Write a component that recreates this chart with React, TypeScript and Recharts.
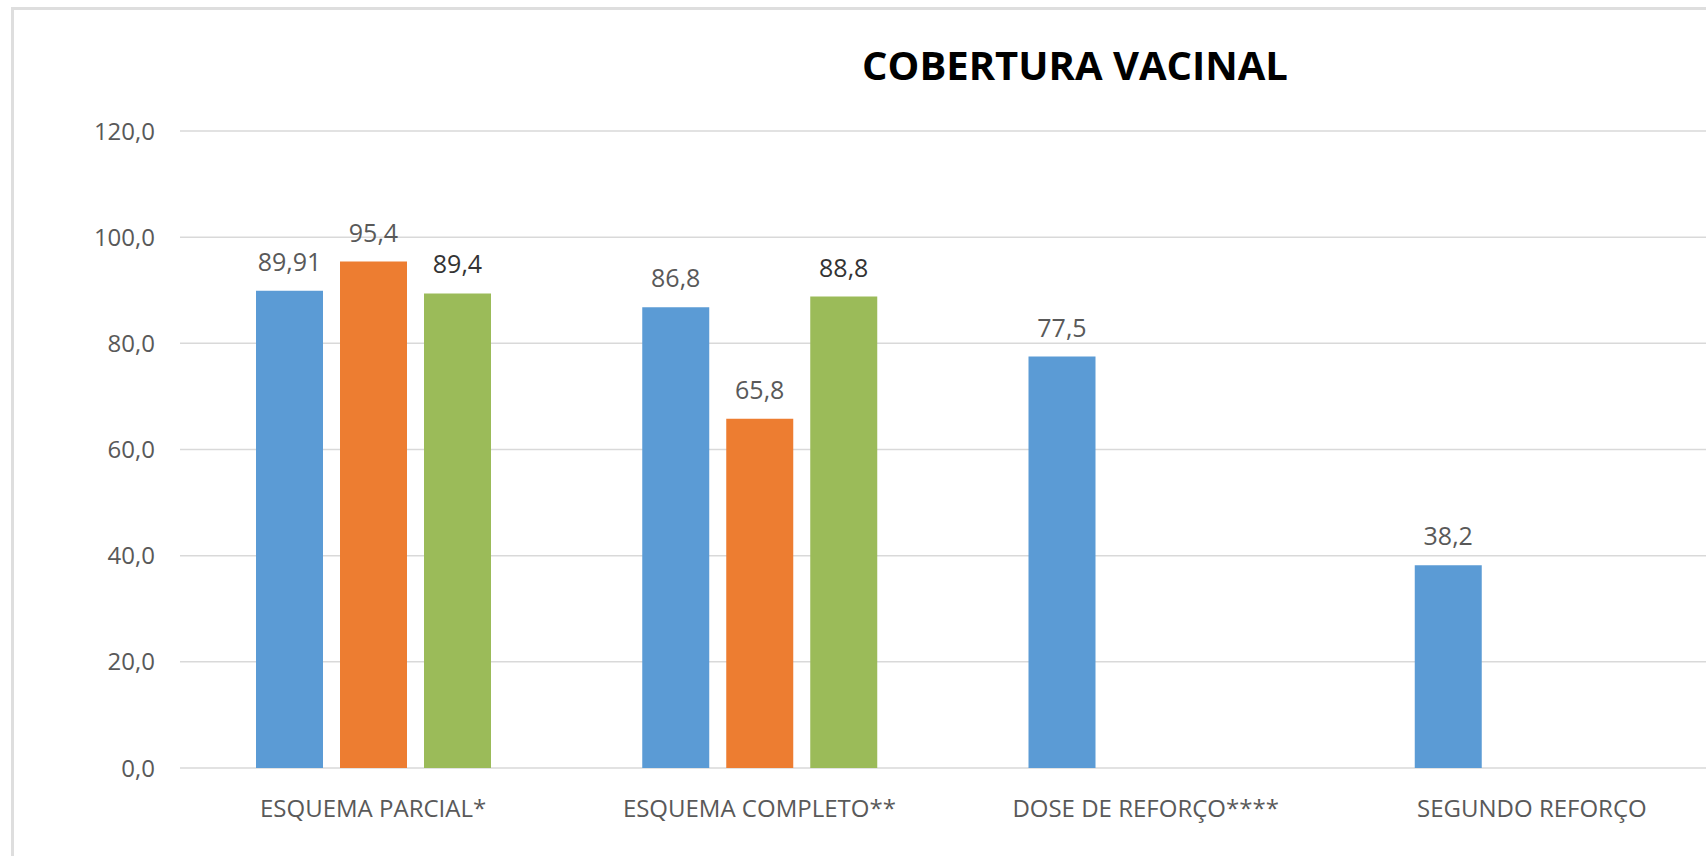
import React from 'react';
import { BarChart, Bar, XAxis, YAxis, CartesianGrid, LabelList } from 'recharts';

const categories = ['ESQUEMA PARCIAL*', 'ESQUEMA COMPLETO**', 'DOSE DE REFORÇO****', 'SEGUNDO REFORÇO'];
const serieAzul = [89.91, 86.8, 77.5, 38.2];
const serieLaranja = [95.4, 65.8, null, null];
const serieVerde = [89.4, 88.8, null, null];
const yTicks = [0, 20, 40, 60, 80, 100, 120];

const data = categories.map((name, i) => ({
  name,
  azul: serieAzul[i],
  laranja: serieLaranja[i],
  verde: serieVerde[i],
}));

const FONT = '"Open Sans", sans-serif';

// formato brasileiro: vírgula decimal
const fmtLabel = (v: any) => (v == null ? '' : String(v).replace('.', ','));
const fmtTick = (v: number) => v.toFixed(1).replace('.', ',');

export default function App() {
  return (
    <div
      style={{
        position: 'absolute',
        left: 0,
        top: 0,
        width: 1706,
        height: 856,
        overflow: 'hidden',
        background: '#fff',
        fontFamily: FONT,
      }}
    >
      <div
        style={{
          position: 'absolute',
          left: 11,
          top: 7,
          width: 1800,
          height: 1000,
          border: '3px solid #dedede',
          boxSizing: 'border-box',
        }}
      />
      <div
        style={{
          position: 'absolute',
          left: 675,
          top: 45,
          width: 800,
          textAlign: 'center',
          fontSize: 40,
          lineHeight: '40px',
          fontWeight: 700,
          color: '#000',
        }}
      >
        COBERTURA VACINAL
      </div>
      <div style={{ position: 'absolute', left: 0, top: 0 }}>
        <BarChart
          width={1740}
          height={856}
          data={data}
          margin={{ top: 131, right: 15, left: 0, bottom: 28 }}
          barSize={67}
          barGap={17}
        >
          <CartesianGrid vertical={false} stroke="#d9d9d9" strokeWidth={1.5} />
          <XAxis
            dataKey="name"
            height={60}
            axisLine={false}
            tickLine={false}
            tickMargin={26}
            interval={0}
            tick={{ fontSize: 24, fill: '#595959', fontFamily: FONT }}
          />
          <YAxis
            width={180}
            domain={[0, 120]}
            ticks={yTicks}
            axisLine={false}
            tickLine={false}
            tickMargin={19}
            tickFormatter={fmtTick}
            tick={{ fontSize: 24, fill: '#595959', fontFamily: FONT }}
          />
          <Bar dataKey="azul" fill="#5B9BD5" isAnimationActive={false}>
            <LabelList
              dataKey="azul"
              position="top"
              offset={20}
              formatter={fmtLabel}
              style={{ fontSize: 25, fill: '#595959', fontFamily: FONT }}
            />
          </Bar>
          <Bar dataKey="laranja" fill="#ED7D31" isAnimationActive={false}>
            <LabelList
              dataKey="laranja"
              position="top"
              offset={20}
              formatter={fmtLabel}
              style={{ fontSize: 25, fill: '#595959', fontFamily: FONT }}
            />
          </Bar>
          <Bar dataKey="verde" fill="#9BBB59" isAnimationActive={false}>
            <LabelList
              dataKey="verde"
              position="top"
              offset={20}
              formatter={fmtLabel}
              style={{ fontSize: 25, fill: '#333333', fontFamily: FONT }}
            />
          </Bar>
        </BarChart>
      </div>
    </div>
  );
}
